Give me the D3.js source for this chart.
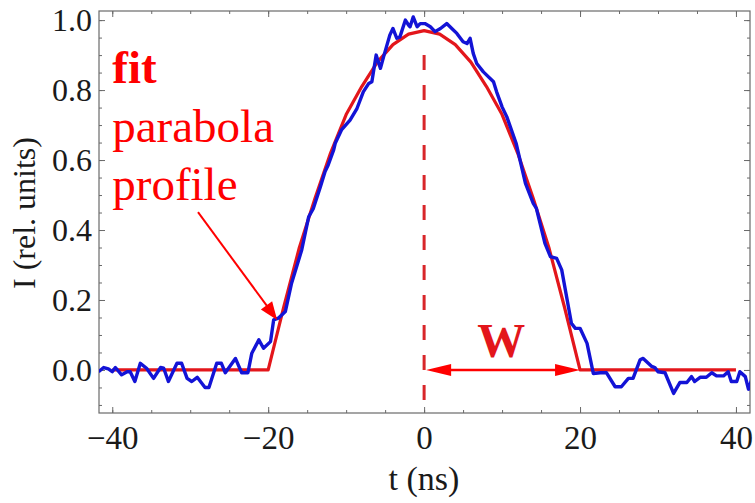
<!DOCTYPE html>
<html>
<head>
<meta charset="utf-8">
<script src="https://cdn.jsdelivr.net/npm/d3@7"></script>
<style>
  body { margin: 0; background: #fff; }
  text { font-family: "Liberation Serif", "Times New Roman", serif; }
</style>
</head>
<body>
<div id="chart"></div>
<script>
var measT = [-41.75, -41.1, -40.5, -40.0, -39.6, -38.8, -38.1, -37.7, -37.1, -36.4, -35.6, -34.7, -33.8, -33.4,
  -32.8, -31.7, -31.1, -30.4, -29.8, -29.1, -28.1, -27.6, -26.6, -26.0, -25.5, -24.2, -23.4, -22.6, -22.1,
  -21.2, -20.6, -19.7, -19.3, -18.7, -17.8, -17.0, -15.7, -14.8, -14.2, -13.3, -12.7, -12.3, -11.6, -11.4,
  -10.6, -9.5, -8.6, -7.8, -7.1, -6.7, -6.15, -5.6, -5.2, -4.4, -4.0, -3.5, -3.1, -2.4, -2.0, -1.8, -1.4,
  -0.9, -0.5, 0.1, 0.8, 1.4, 2.1, 2.9, 3.55, 4.2, 5.0, 5.5, 5.9, 6.3, 6.75, 7.6, 8.9, 9.3, 10.0, 10.6, 11.8,
  13.0, 14.0, 14.4, 15.5, 16.2, 17.0, 17.65, 18.9, 19.4, 20.0, 20.9, 21.7, 22.6, 23.4, 24.5, 25.3, 26.2,
  26.8, 27.7, 28.1, 29.2, 29.6, 30.0, 30.9, 32.0, 32.8, 33.7, 34.3, 34.7, 35.4, 36.2, 36.9, 37.5, 38.4,
  39.0, 39.4, 40.1, 40.5, 41.2, 41.6, 42.0];
var measI = [-0.005, 0.007, 0.003, -0.005, 0.007, -0.014, -0.005, -0.005, -0.033, 0.019, 0.005, -0.024, 0.007, 0.005,
  -0.033, 0.019, 0.019, -0.024, -0.033, -0.021, -0.050, -0.050, 0.019, 0.019, -0.008, 0.033, -0.008, -0.008, 0.048,
  0.086, 0.062, 0.081, 0.143, 0.148, 0.167, 0.248, 0.343, 0.438, 0.462, 0.524, 0.567, 0.586, 0.629, 0.648,
  0.686, 0.714, 0.748, 0.795, 0.819, 0.824, 0.900, 0.862, 0.895, 0.957, 0.976, 0.948, 0.952, 1.000, 0.986, 0.981, 1.009,
  0.981, 0.990, 0.990, 0.981, 0.967, 0.976, 0.990, 0.976, 0.962, 0.938, 0.933, 0.948, 0.905, 0.876, 0.852, 0.824, 0.795, 0.752, 0.724, 0.648,
  0.533, 0.476, 0.462, 0.362, 0.324, 0.319, 0.286, 0.133, 0.119, 0.119, 0.076, -0.010, -0.008, -0.008, -0.048, -0.048, -0.024,
  -0.024, 0.029, 0.033, 0.010, 0.007, -0.005, -0.008, -0.067, -0.036, -0.036, -0.019, -0.033, -0.021, -0.021, -0.008, -0.017, -0.017,
  -0.005, -0.033, -0.033, -0.005, -0.019, -0.055, -0.029];

// parabola fit profile
var fitT = [-40, -20, -18, -16, -14, -12, -10, -8, -6, -4, -2, 0, 2, 4, 6, 8, 10, 12, 14, 16, 18, 20, 40];
var fitI = [0, 0, 0.18, 0.35, 0.49, 0.62, 0.73, 0.81, 0.88, 0.93, 0.96, 0.97, 0.96, 0.93, 0.88, 0.81, 0.73, 0.62, 0.49, 0.35, 0.18, 0, 0];

var xTicks = [-40, -20, 0, 20, 40];
var yTicks = [0, 0.2, 0.4, 0.6, 0.8, 1.0];

var W = 755, H = 503;
var svg = d3.select("#chart").append("svg").attr("width", W).attr("height", H);

var x = d3.scaleLinear().domain([-41.7, 41.8]).range([99, 750]);
var y = d3.scaleLinear().domain([-0.123, 1.026]).range([413, 11]);

var frameCol = "#6a6a6a", labelCol = "#1a1a1a";

// minor + major ticks on all four sides (inward)
function ticks(axisFn, pos, vals, size, fmt, pad) {
  var g = svg.append("g").attr("transform", pos)
    .call(axisFn.tickValues(vals).tickSize(size).tickPadding(pad).tickFormat(fmt));
  g.select(".domain").remove();
  g.selectAll("line").attr("stroke", frameCol).attr("stroke-width", 1);
  return g;
}
var xMinor = d3.range(-40, 41, 5), yMinor = d3.range(-0.1, 1.01, 0.05);
var none = function() { return ""; };

ticks(d3.axisBottom(x), "translate(0,413)", xMinor, -3, none, 0);
ticks(d3.axisTop(x), "translate(0,11)", xMinor, -3, none, 0);
ticks(d3.axisLeft(y), "translate(99,0)", yMinor, -3, none, 0);
ticks(d3.axisRight(y), "translate(750,0)", yMinor, -3, none, 0);
ticks(d3.axisTop(x), "translate(0,11)", xTicks, -6, none, 0);
ticks(d3.axisRight(y), "translate(750,0)", yTicks, -6, none, 0);

var gx = ticks(d3.axisBottom(x), "translate(0,413)", xTicks, -6, d3.format("d"), 13);
gx.selectAll("text").attr("font-size", 33).attr("fill", labelCol);
var gy = ticks(d3.axisLeft(y), "translate(99,0)", yTicks, -6, d3.format(".1f"), 7);
gy.selectAll("text").attr("font-size", 32).attr("fill", labelCol);

svg.append("rect").attr("x", 99).attr("y", 11).attr("width", 651).attr("height", 402)
  .attr("fill", "none").attr("stroke", frameCol).attr("stroke-width", 1.2);

svg.append("defs").append("clipPath").attr("id", "plotclip")
  .append("rect").attr("x", 99).attr("y", 11).attr("width", 651).attr("height", 402);

// dashed centre line
svg.append("line")
  .attr("x1", x(0)).attr("x2", x(0)).attr("y1", y(0.9)).attr("y2", y(-0.123))
  .attr("stroke", "#d8262a").attr("stroke-width", 3).attr("stroke-dasharray", "15,15");

var line = d3.line().x(function(d) { return x(d[0]); }).y(function(d) { return y(d[1]); });

var plot = svg.append("g").attr("clip-path", "url(#plotclip)");
plot.append("path")
  .datum(fitT.map(function(t, i) { return [t, fitI[i]]; }))
  .attr("fill", "none").attr("stroke", "#e3161b").attr("stroke-width", 3.2)
  .attr("stroke-linejoin", "round")
  .attr("d", line);
plot.append("path")
  .datum(measT.map(function(t, i) { return [t, measI[i]]; }))
  .attr("fill", "none").attr("stroke", "#1313d6").attr("stroke-width", 3.4)
  .attr("stroke-linejoin", "round")
  .attr("d", line);

// arrows
function arrowHead(x1, y1, x2, y2, len, half) {
  var a = Math.atan2(y2 - y1, x2 - x1);
  var bx = x2 - len * Math.cos(a), by = y2 - len * Math.sin(a);
  var px = -Math.sin(a) * half, py = Math.cos(a) * half;
  svg.append("path")
    .attr("d", "M" + x2 + "," + y2 + "L" + (bx + px) + "," + (by + py) + "L" + (bx - px) + "," + (by - py) + "Z")
    .attr("fill", "#ff0000");
}
var p0 = [x(-29.0), y(0.451)], p1 = [x(-18.85), y(0.143)];
svg.append("line").attr("x1", p0[0]).attr("y1", p0[1]).attr("x2", p1[0] - 8).attr("y2", p1[1] - 11)
  .attr("stroke", "#ff0000").attr("stroke-width", 2);
arrowHead(p0[0], p0[1], p1[0], p1[1], 18, 7);

var wy = y(0);
svg.append("line").attr("x1", x(0) + 10).attr("x2", x(20) - 10).attr("y1", wy).attr("y2", wy)
  .attr("stroke", "#ff0000").attr("stroke-width", 2.5);
arrowHead(x(10), wy, x(20), wy, 25, 6);
arrowHead(x(10), wy, x(0) + 2, wy, 25, 6);

// annotation text
svg.append("text").attr("x", x(-40)).attr("y", y(0.82)).attr("fill", "#ff0000")
  .attr("font-size", 47).attr("font-weight", "bold").text("fit");
svg.append("text").attr("x", x(-40)).attr("y", y(0.651)).attr("fill", "#ff0000")
  .attr("font-size", 47).text("parabola");
svg.append("text").attr("x", x(-40)).attr("y", y(0.486)).attr("fill", "#ff0000")
  .attr("font-size", 47).text("profile");
svg.append("text").attr("x", x(9.9)).attr("y", y(0.037)).attr("fill", "#e3161b")
  .attr("font-size", 48).attr("font-weight", "bold").attr("text-anchor", "middle").text("W");

// axis titles
svg.append("text").attr("transform", "translate(35,213) rotate(-90)")
  .attr("text-anchor", "middle").attr("font-size", 32).attr("fill", labelCol).text("I (rel. units)");
svg.append("text").attr("x", 424).attr("y", 490)
  .attr("text-anchor", "middle").attr("font-size", 34).attr("fill", labelCol).text("t (ns)");
</script>
</body>
</html>
